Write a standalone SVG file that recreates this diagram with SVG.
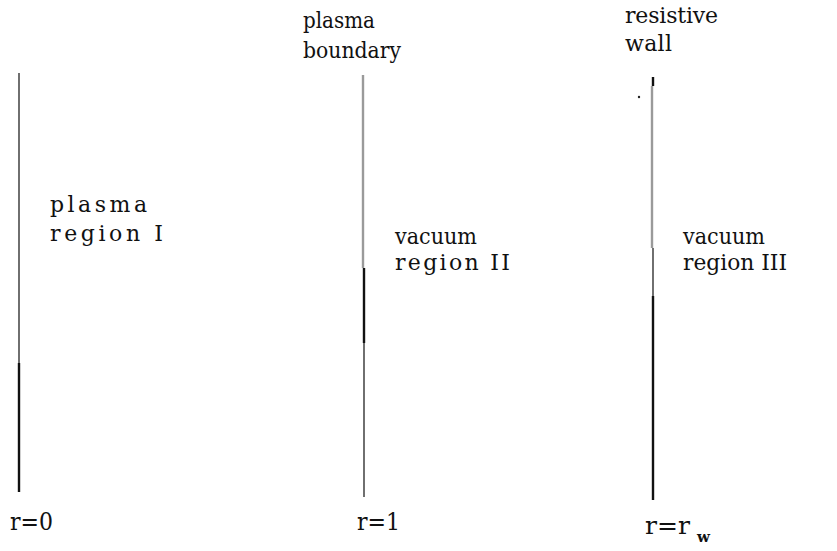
<svg xmlns="http://www.w3.org/2000/svg" width="837" height="551" viewBox="0 0 837 551">
  <style>
    text { font-family: 'DejaVu Serif', 'Liberation Serif', serif; fill: #111; font-size: 22px; }
    .pos { font-size: 24px; }
    .sub { font-size: 15px; font-weight: bold; }
    .thin { stroke: #222; stroke-width: 1.3; fill: none; }
    .thick { stroke: #111; stroke-width: 2.4; fill: none; }
    .grey { stroke: #9a9a9a; stroke-width: 2.4; fill: none; }
  </style>

  <!-- radial boundaries -->
  <g id="connectors">
    <g id="axis-r0">
      <line class="thin" x1="19" y1="73" x2="19" y2="363"/>
      <line class="thick" x1="19" y1="363" x2="19" y2="492"/>
    </g>
    <g id="axis-r1">
      <line class="grey" x1="363" y1="75" x2="363" y2="268"/>
      <line class="thick" x1="364" y1="268" x2="364" y2="343"/>
      <line class="thin" x1="364" y1="343" x2="364" y2="497"/>
    </g>
    <g id="axis-rw">
      <line class="thick" x1="653" y1="77" x2="653" y2="86"/>
      <line class="grey" x1="652" y1="86" x2="652" y2="248"/>
      <line class="thin" x1="653" y1="248" x2="653" y2="296"/>
      <line class="thick" x1="653" y1="296" x2="653" y2="500"/>
      <circle cx="639" cy="97" r="1.2" fill="#222"/>
    </g>
  </g>

  <!-- boundary labels -->
  <g id="plasma-boundary">
    <text x="303" y="28" textLength="72" lengthAdjust="spacingAndGlyphs">plasma</text>
    <text x="303" y="58" textLength="98" lengthAdjust="spacingAndGlyphs">boundary</text>
  </g>
  <g id="resistive-wall">
    <text x="625" y="23" textLength="93" lengthAdjust="spacing">resistive</text>
    <text x="625" y="51" textLength="47" lengthAdjust="spacing">wall</text>
  </g>

  <!-- region labels -->
  <g id="region-1">
    <text x="50" y="212" textLength="97" lengthAdjust="spacing">plasma</text>
    <text x="50" y="241" textLength="113" lengthAdjust="spacing">region I</text>
  </g>
  <g id="region-2">
    <text x="395" y="244" textLength="82" lengthAdjust="spacingAndGlyphs">vacuum</text>
    <text x="395" y="270" textLength="115" lengthAdjust="spacing">region II</text>
  </g>
  <g id="region-3">
    <text x="683" y="244" textLength="82" lengthAdjust="spacingAndGlyphs">vacuum</text>
    <text x="683" y="270" textLength="104" lengthAdjust="spacingAndGlyphs">region III</text>
  </g>

  <!-- radius markers -->
  <g id="r-0">
    <text class="pos" x="10" y="530" textLength="43" lengthAdjust="spacingAndGlyphs">r=0</text>
  </g>
  <g id="r-1">
    <text class="pos" x="357" y="530" textLength="43" lengthAdjust="spacingAndGlyphs">r=1</text>
  </g>
  <g id="r-w">
    <text class="pos" x="645" y="534" textLength="45" lengthAdjust="spacingAndGlyphs">r=r</text>
    <text class="sub" x="697" y="542">w</text>
  </g>
</svg>
